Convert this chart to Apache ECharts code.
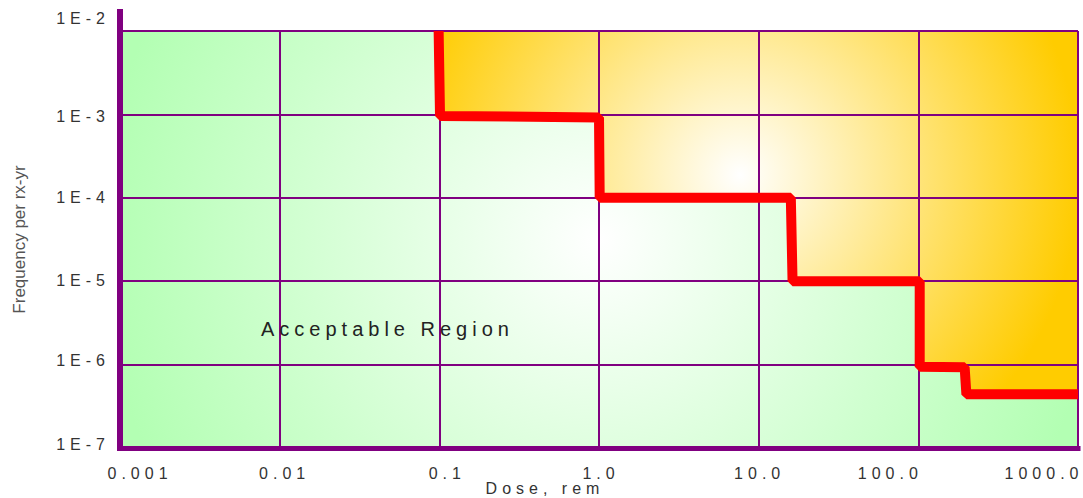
<!DOCTYPE html>
<html>
<head>
<meta charset="utf-8">
<script src="https://cdn.jsdelivr.net/npm/echarts@6/dist/echarts.min.js"></script>
<style>
html, body { margin: 0; padding: 0; background: #ffffff; }
#main { width: 1083px; height: 498px; }
#main text { letter-spacing: 5px; }
#main text[style*="Narrow"] { letter-spacing: 0; }
</style>
</head>
<body>
<div id="main"></div>
<script>
// ---------- data ----------
const doseTicks = [0.001, 0.01, 0.1, 1, 10, 100, 1000];
const doseTickLabels = ['0.001', '0.01', '0.1', '1.0', '10.0', '100.0', '1000.0'];
const freqTicks = [1e-7, 1e-6, 1e-5, 1e-4, 1e-3, 1e-2];
const freqTickLabels = ['1E-7', '1E-6', '1E-5', '1E-4', '1E-3', '1E-2'];
// limit line (boundary between acceptable / unacceptable region)
const limitDose = [0.099, 0.101, 1.0, 1.01, 15.9, 16.3, 102, 102, 195, 200, 1000];
const limitFreq = [1e-2, 9.6e-4, 9.2e-4, 1e-4, 1e-4, 1e-5, 1e-5, 9.4e-7, 9.3e-7, 4.4e-7, 4.4e-7];
const regionLabel = 'Acceptable Region';
const xAxisName = 'Dose, rem';
const yAxisName = 'Frequency per rx-yr';

// ---------- styles ----------
const W = 1083, H = 498;
const GRID = { left: 120, right: 5, top: 31, bottom: 50 };
const PW = W - GRID.left - GRID.right, PH = H - GRID.top - GRID.bottom;
const PURPLE = '#800080';
const FONT = '"Liberation Sans", Arial, sans-serif';
const NARROW = '"Liberation Sans Narrow", "Liberation Sans", Arial, sans-serif';
const xLabelShift = [20, 5, 8, 2, 1, -28, -34];   // px, horizontal offset of each dose label
const yLabelShift = [-4, -4, -1, 0, 2, -13];      // px, vertical offset of each frequency label

const xRich = {}, yRich = {};
xLabelShift.forEach((s, i) => {
  xRich['x' + i] = { fontSize: 16, fontFamily: FONT, color: '#333',
    padding: [0, s < 0 ? -2 * s : 0, 0, s > 0 ? 2 * s : 0] };
});
yLabelShift.forEach((s, i) => {
  yRich['y' + i] = { fontSize: 16, fontFamily: FONT, color: '#333',
    padding: [s > 0 ? 2 * s : 0, 0, s < 0 ? -2 * s : 0, 0] };
});

const limitData = limitDose.map((d, i) => [d, limitFreq[i]]);
const fullData = [[doseTicks[0], freqTicks[freqTicks.length - 1]],
                  [doseTicks[doseTicks.length - 1], freqTicks[freqTicks.length - 1]]];

const greenFill = {
  type: 'radial', global: true,
  x: GRID.left + PW * 0.5, y: GRID.top + PH * 0.5, r: 500,
  colorStops: [{ offset: 0, color: '#ffffff' }, { offset: 1, color: '#b3ffb3' }]
};
const orangeFill = {
  type: 'radial', global: true,
  x: 740, y: 175, r: 340,
  colorStops: [{ offset: 0, color: '#ffffff' }, { offset: 1, color: '#ffcc00' }]
};

const chart = echarts.init(document.getElementById('main'), null, { renderer: 'svg', width: W, height: H });

const xIndex = v => Math.round(Math.log10(v) - Math.log10(doseTicks[0]));
const yIndex = v => Math.round(Math.log10(v) - Math.log10(freqTicks[0]));

chart.setOption({
  animation: false,
  backgroundColor: '#ffffff',
  grid: { left: GRID.left, right: GRID.right, top: GRID.top, bottom: GRID.bottom, outerBoundsMode: 'none' },
  xAxis: {
    type: 'log', logBase: 10,
    min: doseTicks[0], max: doseTicks[doseTicks.length - 1],
    name: xAxisName, nameLocation: 'middle', nameGap: 32, nameMoveOverlap: false,
    nameTextStyle: { fontFamily: FONT, fontSize: 16, color: '#333', padding: [0, 108, 0, 0] },
    axisLine: { show: true, lineStyle: { color: PURPLE, width: 5, cap: 'square' } },
    axisTick: { show: false },
    axisLabel: {
      margin: 17, fontFamily: FONT, fontSize: 16, color: '#333',
      formatter: v => { const i = xIndex(v); return '{x' + i + '|' + doseTickLabels[i] + '}'; },
      rich: xRich
    },
    splitLine: { show: true, lineStyle: { color: PURPLE, width: 2 } },
    minorTick: { show: false }, minorSplitLine: { show: false }
  },
  yAxis: {
    type: 'log', logBase: 10,
    min: freqTicks[0], max: freqTicks[freqTicks.length - 1],
    name: yAxisName, nameLocation: 'middle', nameGap: 92, nameMoveOverlap: false,
    nameTextStyle: { fontFamily: NARROW, fontSize: 17, color: '#555' },
    axisLine: { show: true, lineStyle: { color: PURPLE, width: 6, cap: 'square' } },
    axisTick: { show: false },
    axisLabel: {
      margin: 10, fontFamily: FONT, fontSize: 16, color: '#333',
      formatter: v => { const i = yIndex(v); return '{y' + i + '|' + freqTickLabels[i] + '}'; },
      rich: yRich
    },
    splitLine: { show: true, lineStyle: { color: PURPLE, width: 2 } },
    minorTick: { show: false }, minorSplitLine: { show: false }
  },
  graphic: [
    { type: 'rect', z: 10,
      shape: { x: GRID.left - 3, y: 9, width: 6, height: GRID.top - 8 },
      style: { fill: PURPLE } },
    { type: 'text', left: 261, top: 319, z: 1,
      style: { text: regionLabel, font: '20px "Liberation Sans", Arial, sans-serif', fill: '#222' } }
  ],
  series: [
    { type: 'line', name: 'Acceptable', z: -2, data: fullData, showSymbol: false, silent: true,
      lineStyle: { width: 0, opacity: 0 },
      areaStyle: { origin: 'start', color: greenFill, opacity: 1 } },
    { type: 'line', name: 'Unacceptable', z: -1, data: limitData, showSymbol: false, silent: true,
      lineStyle: { width: 0, opacity: 0 },
      areaStyle: { origin: 'end', color: orangeFill, opacity: 1 } },
    { type: 'line', name: 'Limit', z: 3, data: limitData, showSymbol: false, silent: true,
      lineStyle: { width: 10, color: '#ff0000', join: 'bevel' } }
  ]
});
</script>
</body>
</html>
